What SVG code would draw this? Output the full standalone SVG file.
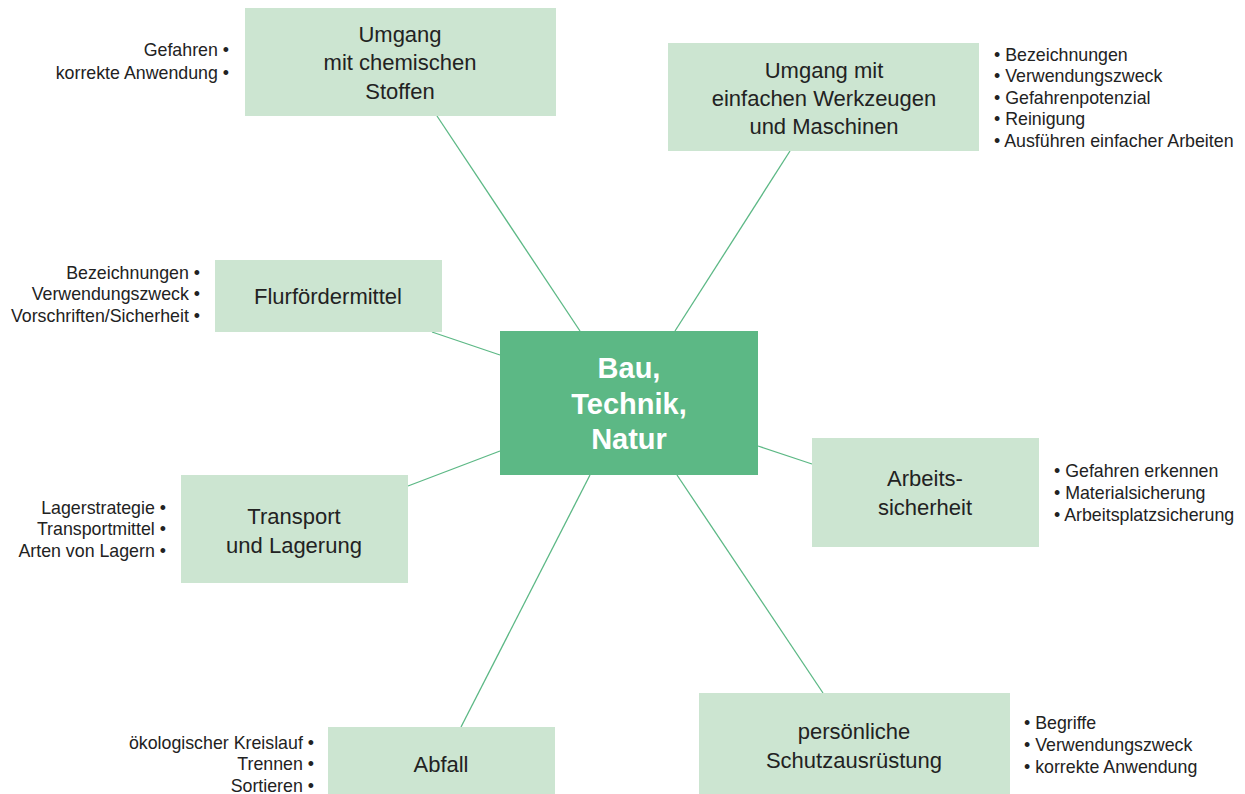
<svg xmlns="http://www.w3.org/2000/svg" width="1245" height="794" viewBox="0 0 1245 794">
<style>
.n{fill:#cce5d1}
.c{fill:#5cb885}
.t{font-family:"Liberation Sans",Arial,sans-serif;font-size:22px;fill:#222;text-anchor:middle}
.ct{font-family:"Liberation Sans",Arial,sans-serif;font-size:29px;font-weight:bold;fill:#fff;text-anchor:middle}
.b{font-family:"Liberation Sans",Arial,sans-serif;font-size:17.8px;fill:#222}
.r{text-anchor:end}
.l{stroke:#5cb885;stroke-width:1.3;fill:none}
</style>
<rect width="1245" height="794" fill="#fff"/>
<g id="connectors">
<line class="l" x1="437" y1="116" x2="580" y2="331"/>
<line class="l" x1="790" y1="151" x2="675" y2="331"/>
<line class="l" x1="432" y1="332" x2="500" y2="355"/>
<line class="l" x1="408" y1="486" x2="500" y2="451"/>
<line class="l" x1="758" y1="446" x2="812" y2="464"/>
<line class="l" x1="677" y1="475" x2="823" y2="693"/>
<line class="l" x1="590" y1="475" x2="461" y2="727"/>
</g>
<g id="center">
<rect class="c" x="500" y="331" width="258" height="144"/>
<text class="ct" x="629" y="378">Bau,</text>
<text class="ct" x="629" y="414">Technik,</text>
<text class="ct" x="629" y="449">Natur</text>
</g>
<g id="chemie">
<rect class="n" x="245" y="8" width="311" height="108"/>
<text class="t" x="400" y="42">Umgang</text>
<text class="t" x="400" y="70">mit chemischen</text>
<text class="t" x="400" y="99">Stoffen</text>
<text class="b r" x="229" y="56">Gefahren •</text>
<text class="b r" x="229" y="79">korrekte Anwendung •</text>
</g>
<g id="werkzeuge">
<rect class="n" x="668" y="43" width="311" height="108"/>
<text class="t" x="824" y="78">Umgang mit</text>
<text class="t" x="824" y="106">einfachen Werkzeugen</text>
<text class="t" x="824" y="134">und Maschinen</text>
<text class="b" x="994" y="61">• Bezeichnungen</text>
<text class="b" x="994" y="82">• Verwendungszweck</text>
<text class="b" x="994" y="104">• Gefahrenpotenzial</text>
<text class="b" x="994" y="125">• Reinigung</text>
<text class="b" x="994" y="147">• Ausführen einfacher Arbeiten</text>
</g>
<g id="flur">
<rect class="n" x="215" y="260" width="227" height="72"/>
<text class="t" x="328" y="304">Flurfördermittel</text>
<text class="b r" x="200" y="279">Bezeichnungen •</text>
<text class="b r" x="200" y="300">Verwendungszweck •</text>
<text class="b r" x="200" y="322">Vorschriften/Sicherheit •</text>
</g>
<g id="transport">
<rect class="n" x="181" y="475" width="227" height="108"/>
<text class="t" x="294" y="524">Transport</text>
<text class="t" x="294" y="553">und Lagerung</text>
<text class="b r" x="166" y="514">Lagerstrategie •</text>
<text class="b r" x="166" y="535">Transportmittel •</text>
<text class="b r" x="166" y="557">Arten von Lagern •</text>
</g>
<g id="arbeitssicherheit">
<rect class="n" x="812" y="438" width="227" height="109"/>
<text class="t" x="925" y="486">Arbeits-</text>
<text class="t" x="925" y="515">sicherheit</text>
<text class="b" x="1054" y="477">• Gefahren erkennen</text>
<text class="b" x="1054" y="499">• Materialsicherung</text>
<text class="b" x="1054" y="521">• Arbeitsplatzsicherung</text>
</g>
<g id="psa">
<rect class="n" x="699" y="693" width="311" height="101"/>
<text class="t" x="854" y="739">persönliche</text>
<text class="t" x="854" y="768">Schutzausrüstung</text>
<text class="b" x="1024" y="729">• Begriffe</text>
<text class="b" x="1024" y="751">• Verwendungszweck</text>
<text class="b" x="1024" y="773">• korrekte Anwendung</text>
</g>
<g id="abfall">
<rect class="n" x="328" y="727" width="227" height="67"/>
<text class="t" x="441" y="772">Abfall</text>
<text class="b r" x="314" y="749">ökologischer Kreislauf •</text>
<text class="b r" x="314" y="770">Trennen •</text>
<text class="b r" x="314" y="792">Sortieren •</text>
</g>
</svg>
